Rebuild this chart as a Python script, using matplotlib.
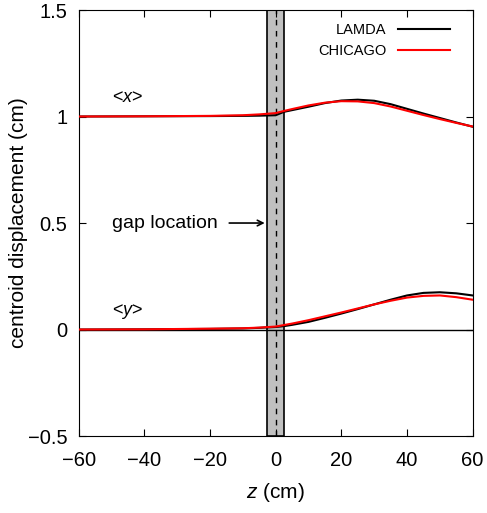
import numpy as np
import matplotlib
matplotlib.use("Agg")
import matplotlib.pyplot as plt

plt.rcParams['font.family'] = ['Liberation Sans', 'DejaVu Sans']
plt.rcParams['mathtext.fontset'] = 'custom'
plt.rcParams['mathtext.rm'] = 'Liberation Sans'
plt.rcParams['mathtext.it'] = 'Liberation Sans:italic'

# z positions (cm)
z = [-60, -40, -20, -10, -5, 0, 2.5, 5, 10, 15, 20, 25, 30, 35, 40, 45, 50, 55, 60]

# <x> centroid
x_lamda = [1.000, 1.001, 1.002, 1.003, 1.004, 1.006, 1.022, 1.030, 1.046, 1.063, 1.075,
           1.079, 1.074, 1.058, 1.036, 1.014, 0.993, 0.972, 0.952]
x_chicago = [1.000, 1.001, 1.003, 1.006, 1.010, 1.016, 1.026, 1.035, 1.052, 1.065, 1.072,
             1.071, 1.063, 1.047, 1.027, 1.007, 0.988, 0.970, 0.953]

# <y> centroid
y_lamda = [0.000, 0.001, 0.003, 0.005, 0.008, 0.012, 0.016, 0.022, 0.036, 0.055, 0.075,
           0.096, 0.118, 0.140, 0.160, 0.172, 0.175, 0.170, 0.160]
y_chicago = [0.000, 0.001, 0.004, 0.006, 0.009, 0.014, 0.021, 0.028, 0.044, 0.062, 0.080,
             0.099, 0.118, 0.135, 0.150, 0.158, 0.160, 0.152, 0.140]

gap = (-2.5, 2.5)

fig = plt.figure(figsize=(4.87, 5.13), dpi=100)
ax = fig.add_axes([0.1616, 0.150, 0.809, 0.8305])

ax.axvspan(gap[0], gap[1], facecolor='#c0c0c0', edgecolor='black', lw=1.2, zorder=1)
ax.axvline(0, color='black', ls=(0, (4, 4)), lw=1.0, zorder=2)
ax.axhline(0, color='black', lw=1.0, zorder=2)

ax.plot(z, x_lamda, color='black', lw=1.5, label='LAMDA', zorder=3)
ax.plot(z, x_chicago, color='#ff0000', lw=1.5, label='CHICAGO', zorder=4)
ax.plot(z, y_lamda, color='black', lw=1.5, zorder=3)
ax.plot(z, y_chicago, color='#ff0000', lw=1.5, zorder=4)

ax.text(-50, 1.09, r'<$\mathit{x}$>', fontsize=13, va='center', ha='left')
ax.text(-50, 0.087, r'<$\mathit{y}$>', fontsize=13, va='center', ha='left')
ax.text(-50, 0.5, 'gap location', fontsize=14, va='center', ha='left')
ax.annotate('', xy=(gap[0], 0.5), xytext=(-15, 0.5),
            arrowprops=dict(arrowstyle='->', color='black', lw=1.2))

ax.set_xlim(-60, 60)
ax.set_ylim(-0.5, 1.5)
ax.set_xticks(np.arange(-60, 61, 20))
ax.set_yticks([-0.5, 0, 0.5, 1, 1.5])
ax.set_yticklabels(['\u22120.5', '0', '0.5', '1', '1.5'])
ax.tick_params(direction='in', top=True, right=True, length=5, labelsize=14.5)
ax.tick_params(axis='x', pad=11)
ax.tick_params(axis='y', pad=8)

ax.set_xlabel(r'$\mathit{z}$ (cm)', fontsize=15, labelpad=8)
ax.set_ylabel('centroid displacement (cm)', fontsize=15, labelpad=0)

leg = ax.legend(loc='upper right', bbox_to_anchor=(0.958, 0.983), borderaxespad=0,
                frameon=False, markerfirst=False, fontsize=10.5,
                handlelength=3.6, handletextpad=0.8, labelspacing=0.45)

fig.savefig('out.png', dpi=100)
